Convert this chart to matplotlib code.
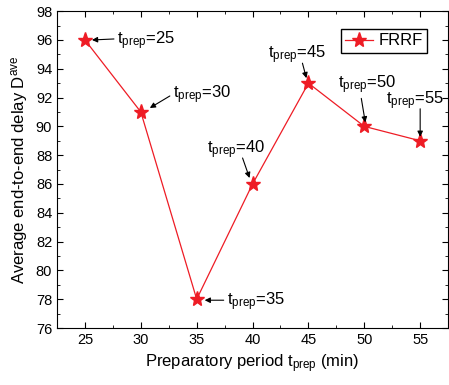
import matplotlib.pyplot as plt
from matplotlib.ticker import MultipleLocator
from matplotlib.transforms import offset_copy

plt.rcParams['font.family'] = ['Liberation Sans', 'DejaVu Sans']
plt.rcParams['mathtext.fontset'] = 'custom'
plt.rcParams['mathtext.rm'] = 'Liberation Sans'
plt.rcParams['mathtext.it'] = 'Liberation Sans'

t_prep = [25, 30, 35, 40, 45, 50, 55]
delay = [96, 91, 78, 86, 93, 90, 89]

# label / arrow placement relative to each point, in pixels (x right, y up)
text_off = [(32, -4), (32, 14), (30, -6), (-46, 31), (-40, 25), (-26, 38), (-34, 36)]
arrow_start = [(29, 1), (29, 16), (27, -1), (-10, 26), (-6, 20), (-3, 28), (0, 32)]
arrow_end = [(7, 0), (9, 4), (8, -1), (-3, 6), (-2, 5), (1, 4), (0, 4)]

fig = plt.figure(figsize=(4.49, 3.85), dpi=100)
ax = fig.add_axes([0.127, 0.148, 0.871, 0.823])

ax.plot(t_prep, delay, color='#ee1c25', lw=0.9, marker='*', ms=11,
        markerfacecolor='#ee1c25', markeredgecolor='#ee1c25', label='FRRF')

for x, y, to, a0, a1 in zip(t_prep, delay, text_off, arrow_start, arrow_end):
    ax.annotate(r'$\mathregular{t_{prep}}$=%d' % x, xy=(x, y), xytext=to,
                textcoords='offset pixels', fontsize=12, ha='left', va='baseline')
    tr0 = offset_copy(ax.transData, fig=fig, x=a0[0], y=a0[1], units='dots')
    tr1 = offset_copy(ax.transData, fig=fig, x=a1[0], y=a1[1], units='dots')
    ax.annotate('', xy=(x, y), xycoords=tr1, xytext=(x, y), textcoords=tr0,
                arrowprops=dict(arrowstyle='-|>', color='black', lw=0.8,
                                shrinkA=0, shrinkB=0, mutation_scale=8))

ax.set_xlim(22.5, 57.5)
ax.set_ylim(76, 98)
ax.xaxis.set_major_locator(MultipleLocator(5))
ax.xaxis.set_minor_locator(MultipleLocator(2.5))
ax.yaxis.set_major_locator(MultipleLocator(2))
ax.yaxis.set_minor_locator(MultipleLocator(1))
ax.tick_params(which='both', direction='in', top=True, right=True, labelsize=10.5)
ax.tick_params(which='major', length=4)
ax.tick_params(which='minor', length=2)

ax.set_xlabel(r'Preparatory period $\mathregular{t_{prep}}$ (min)', fontsize=12)
ax.set_ylabel(r'Average end-to-end delay $\mathregular{D^{ave}}$', fontsize=12)

ax.legend(loc='upper right', bbox_to_anchor=(0.945, 0.943), fontsize=12,
          fancybox=False, edgecolor='black', framealpha=1, handlelength=1.7,
          handletextpad=0.3, borderpad=0.25, borderaxespad=0)

fig.savefig('out.png', dpi=100)
